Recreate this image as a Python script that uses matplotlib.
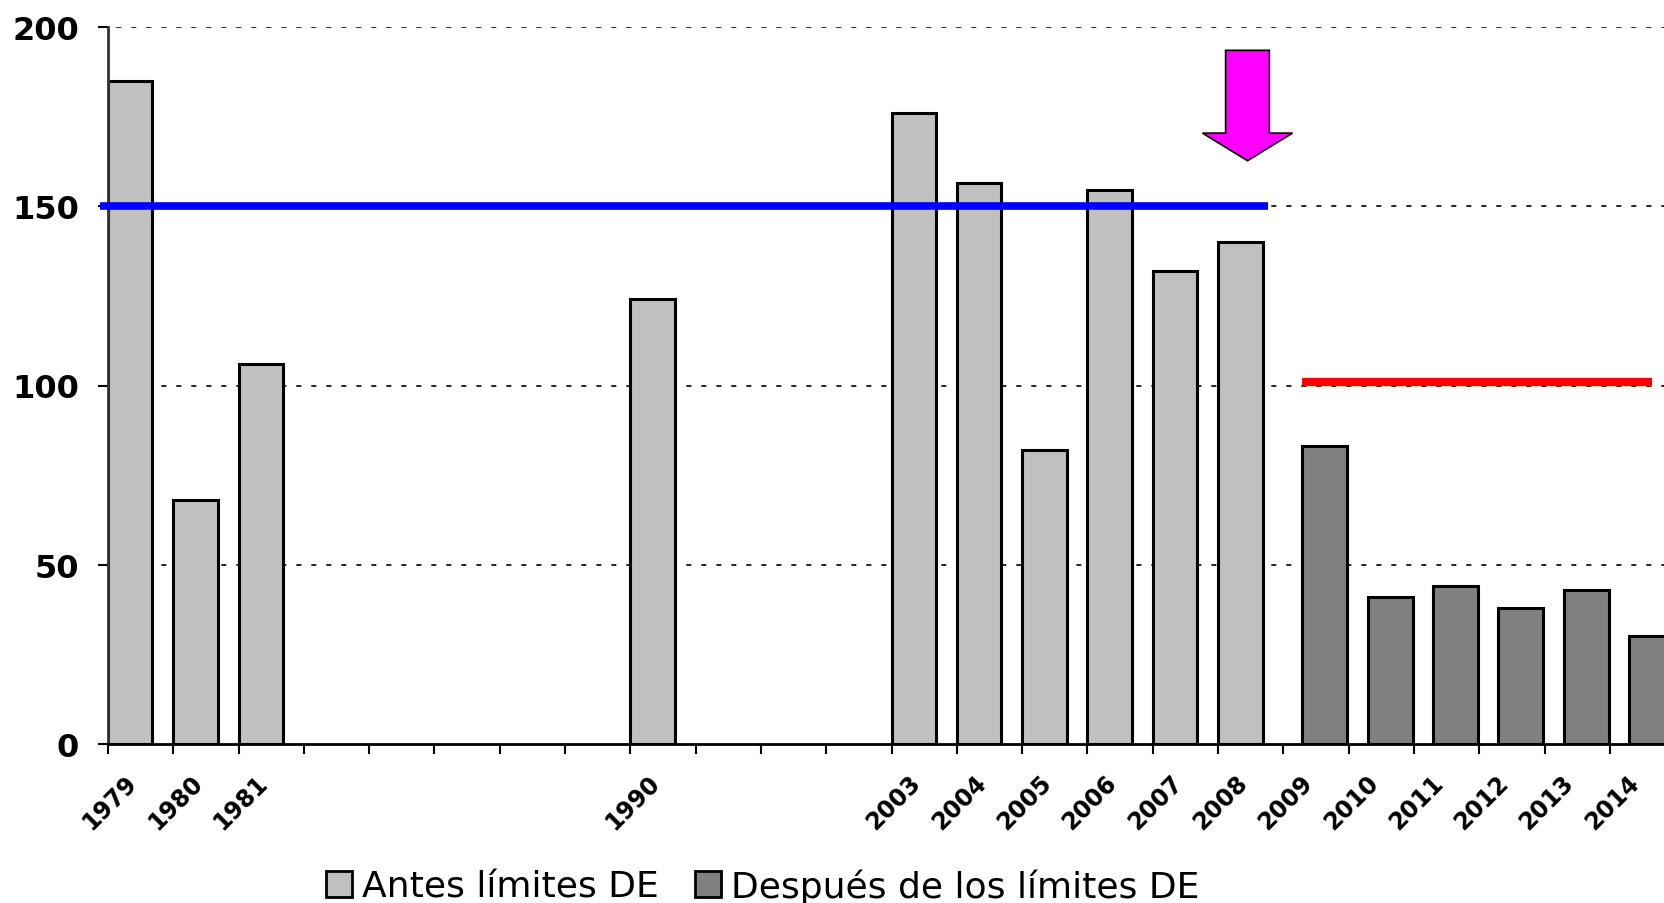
import matplotlib
matplotlib.use('Agg')
import matplotlib.pyplot as plt
import matplotlib.transforms as mtransforms
from matplotlib.patches import Patch
import numpy as np

# category slots (blank slots are empty years in the original sheet)
categories = ['1979', '1980', '1981', '', '', '', '', '', '1990', '', '', '',
              '2003', '2004', '2005', '2006', '2007', '2008',
              '2009', '2010', '2011', '2012', '2013', '2014']
antes = [185, 68, 106, None, None, None, None, None, 124, None, None, None,
         176, 156.5, 82, 154.5, 132, 140,
         None, None, None, None, None, None]
despues = [None] * 18 + [83, 41, 44, 38, 43, 30]

limite_antes = 150
limite_despues = 101
arrow_cat = 17.45
arrow_top, arrow_tip = 193.5, 162.7

W, H = 1665, 904
fig = plt.figure(figsize=(W / 100, H / 100), dpi=100)
ax = fig.add_axes([108 / W, 1 - 745 / H, (W - 108) / W, (745 - 28) / H])

cat_px = 65.3
ax.set_xlim(0, (W - 108) / cat_px)
ax.set_ylim(0, 200)

x = np.arange(len(categories))
a = np.array([np.nan if v is None else v for v in antes])
d = np.array([np.nan if v is None else v for v in despues])

ax.bar(x, a, width=0.68, align='edge', color='#C0C0C0', edgecolor='black',
       linewidth=2.2, zorder=2)
ax.bar(x + 0.29, d, width=0.69, align='edge', color='#808080', edgecolor='black',
       linewidth=2.2, zorder=2)

# dotted gridlines
for yv in [50, 100, 150, 200]:
    ax.axhline(yv, color='black', lw=1.2, ls=(4, (3, 6)), zorder=1)

# limit lines
ax.plot([-0.12, 17.77], [limite_antes] * 2, color='#0000FF', lw=5.5,
        solid_capstyle='butt', zorder=4, clip_on=False)
ax.plot([18.28, 23.64], [limite_despues] * 2, color='#FF0000', lw=6,
        solid_capstyle='butt', zorder=4)

ax.arrow(arrow_cat, arrow_top, 0, arrow_tip - arrow_top, width=0.67,
         head_width=1.38, head_length=7.7, length_includes_head=True,
         fc='#FF00FF', ec='black', lw=1.2, zorder=5)

for s in ['top', 'right']:
    ax.spines[s].set_visible(False)
ax.spines['left'].set_linewidth(2)
ax.spines['left'].set_color('#333333')
ax.spines['bottom'].set_linewidth(2)

ax.set_yticks([0, 50, 100, 150, 200])
ax.set_yticklabels(['0', '50', '100', '150', '200'], fontsize=23,
                   fontweight='bold', family='DejaVu Sans')
ax.tick_params(axis='y', length=7, width=1.5, pad=14)

ax.set_xticks(x)
ax.set_xticklabels(categories, rotation=45, ha='right', rotation_mode='anchor',
                   fontsize=17, fontweight='bold', family='DejaVu Sans')
ax.tick_params(axis='x', length=7, width=1.5, pad=12)
offset = mtransforms.ScaledTranslation(17 / 100, 0, fig.dpi_scale_trans)
for lbl in ax.get_xticklabels():
    lbl.set_transform(lbl.get_transform() + offset)

handles = [Patch(facecolor='#C0C0C0', edgecolor='black', lw=2, label='Antes límites DE'),
           Patch(facecolor='#808080', edgecolor='black', lw=2, label='Después de los límites DE')]
fig.legend(handles=handles, loc='center', bbox_to_anchor=(763 / W, 1 - 887 / H),
           ncol=2, frameon=False, prop={'family': 'DejaVu Sans', 'size': 26},
           handlelength=0.7, handleheight=0.7, handletextpad=0.3, columnspacing=1.0)

fig.savefig('out.png', dpi=100)
